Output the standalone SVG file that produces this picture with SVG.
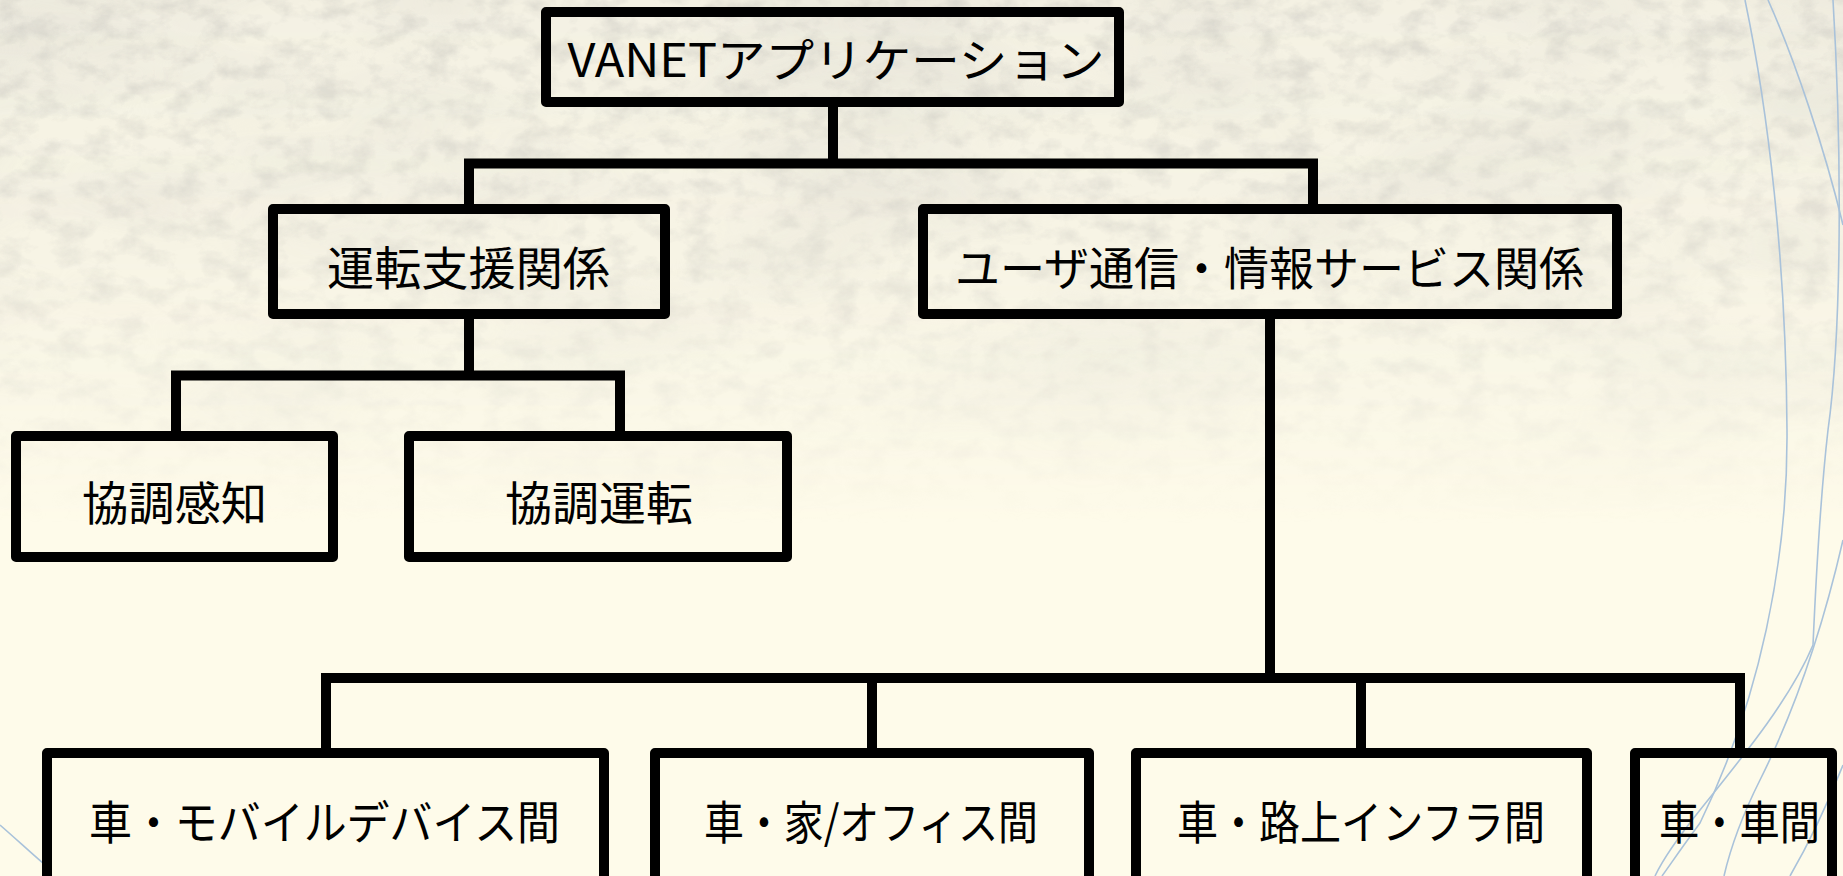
<svg xmlns="http://www.w3.org/2000/svg" width="1843" height="876" viewBox="0 0 1843 876">
  <style>
    .box { fill: none; stroke: #000; stroke-width: 10; stroke-linejoin: round; }
    .conn { fill: none; stroke: #000; stroke-width: 10; stroke-linejoin: miter; stroke-linecap: butt; }
    .lbl { font-family: "Noto Sans CJK JP", "Noto Sans", sans-serif; font-size: 46px; fill: #000; text-anchor: middle; dominant-baseline: central; }
    .deco { fill: none; stroke: #a9c2da; stroke-width: 1.6; }
  </style>
  <defs>
    <filter id="tex" x="0" y="0" width="100%" height="100%">
      <feTurbulence type="fractalNoise" baseFrequency="0.035 0.05" numOctaves="4" seed="11" result="n"/>
      <feColorMatrix in="n" type="matrix" values="0 0 0 0 0.55  0 0 0 0 0.54  0 0 0 0 0.50  2.4 0 0 0 -1.05"/>
    </filter>
    <filter id="tex2" x="0" y="0" width="100%" height="100%">
      <feTurbulence type="fractalNoise" baseFrequency="0.004 0.009" numOctaves="3" seed="4" result="n"/>
      <feColorMatrix in="n" type="matrix" values="0 0 0 0 0.6  0 0 0 0 0.59  0 0 0 0 0.55  1.6 0 0 0 -0.6"/>
    </filter>
    <linearGradient id="fade" x1="0" y1="0" x2="0" y2="1">
      <stop offset="0" stop-color="#fff" stop-opacity="1"/>
      <stop offset="0.3" stop-color="#fff" stop-opacity="0.7"/>
      <stop offset="0.6" stop-color="#fff" stop-opacity="0"/>
    </linearGradient>
    <mask id="texmask">
      <rect width="1843" height="876" fill="url(#fade)"/>
    </mask>
  </defs>

  <g id="background">
    <rect width="1843" height="876" fill="#fefbea"/>
    <rect width="1843" height="876" fill="#f4f1e3" mask="url(#texmask)"/>
    <g mask="url(#texmask)">
      <rect width="1843" height="876" filter="url(#tex2)" opacity="0.35"/>
      <rect width="1843" height="876" filter="url(#tex)" opacity="0.45"/>
    </g>
    <path class="deco" d="M1745 0 C1768 110 1786 260 1787 430 C1788 560 1760 700 1700 823 C1680 850 1670 865 1662 876"/>
    <path class="deco" d="M1768 0 C1795 60 1825 150 1843 225"/>
    <path class="deco" d="M1833 0 C1842 150 1842 330 1828 430 C1820 500 1815 600 1813 645 C1790 700 1740 760 1700 810 C1680 835 1665 855 1655 876"/>
    <path class="deco" d="M1843 540 C1820 640 1790 720 1760 780 C1740 820 1730 850 1724 876"/>
    <path class="deco" d="M1843 765 C1825 810 1805 850 1790 876"/>
    <path class="deco" d="M0 825 C15 838 30 852 44 864"/>
  </g>

  <g id="connectors">
    <path class="conn" d="M833 102 V163.5"/>
    <path class="conn" d="M469 209 V163.5 H1313 V209"/>
    <path class="conn" d="M469 314 V375.5"/>
    <path class="conn" d="M176 436 V375.5 H620 V436"/>
    <path class="conn" d="M1270 314 V678"/>
    <path class="conn" d="M326 753 V678 H1740 V753"/>
    <path class="conn" d="M872 678 V753"/>
    <path class="conn" d="M1361 678 V753"/>
  </g>

  <g id="node-vanet">
    <rect class="box" x="546" y="12" width="573" height="90"/>
    <text class="lbl" x="836" y="57" font-size="52" textLength="537" lengthAdjust="spacingAndGlyphs">VANETアプリケーション</text>
  </g>

  <g id="node-driving-support">
    <rect class="box" x="273" y="209" width="392" height="105"/>
    <text class="lbl" x="468.5" y="265" textLength="283" lengthAdjust="spacingAndGlyphs">運転支援関係</text>
  </g>

  <g id="node-user-comm">
    <rect class="box" x="923" y="209" width="694" height="105"/>
    <text class="lbl" x="1269.5" y="265" textLength="629" lengthAdjust="spacingAndGlyphs">ユーザ通信・情報サービス関係</text>
  </g>

  <g id="node-coop-sensing">
    <rect class="box" x="16" y="436" width="317" height="121"/>
    <text class="lbl" x="174.5" y="500" textLength="185" lengthAdjust="spacingAndGlyphs">協調感知</text>
  </g>

  <g id="node-coop-driving">
    <rect class="box" x="409" y="436" width="378" height="121"/>
    <text class="lbl" x="599" y="500" textLength="188" lengthAdjust="spacingAndGlyphs">協調運転</text>
  </g>

  <g id="node-car-mobile">
    <rect class="box" x="47" y="753" width="557" height="160"/>
    <text class="lbl" x="324.5" y="819" font-size="45" textLength="471" lengthAdjust="spacingAndGlyphs">車・モバイルデバイス間</text>
  </g>

  <g id="node-car-home">
    <rect class="box" x="655" y="753" width="434" height="160"/>
    <text class="lbl" x="871" y="819" font-size="45" textLength="334" lengthAdjust="spacingAndGlyphs">車・家/オフィス間</text>
  </g>

  <g id="node-car-infra">
    <rect class="box" x="1136" y="753" width="451" height="160"/>
    <text class="lbl" x="1361" y="819" font-size="45" textLength="368" lengthAdjust="spacingAndGlyphs">車・路上インフラ間</text>
  </g>

  <g id="node-car-car">
    <rect class="box" x="1635" y="753" width="197" height="160"/>
    <text class="lbl" x="1739.5" y="819" font-size="45" textLength="161" lengthAdjust="spacingAndGlyphs">車・車間</text>
  </g>
</svg>
